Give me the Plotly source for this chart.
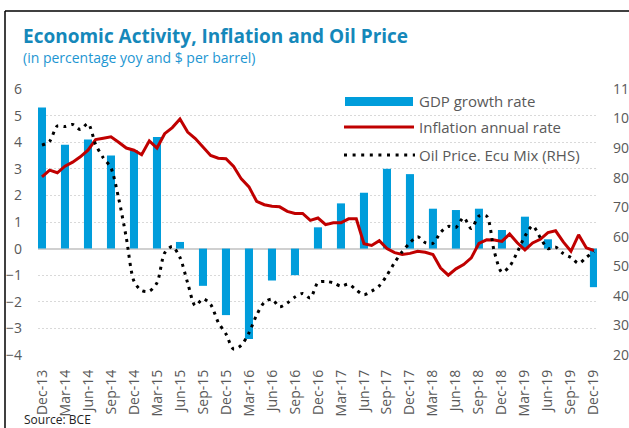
import pandas as pd
import plotly.graph_objects as go

# ---------------- data ----------------
month_labels = list(pd.date_range("2013-12-01", "2019-12-01", freq="MS").strftime("%b-%y"))

quarter_labels = ["Dec-13", "Mar-14", "Jun-14", "Sep-14", "Dec-14", "Mar-15", "Jun-15", "Sep-15",
                  "Dec-15", "Mar-16", "Jun-16", "Sep-16", "Dec-16", "Mar-17", "Jun-17", "Sep-17",
                  "Dec-17", "Mar-18", "Jun-18", "Sep-18", "Dec-18", "Mar-19", "Jun-19", "Sep-19",
                  "Dec-19"]

gdp_growth = [5.3, 3.9, 4.1, 3.5, 3.7, 4.2, 0.25, -1.4,
              -2.5, -3.4, -1.2, -1.0, 0.8, 1.7, 2.1, 3.0,
              2.8, 1.5, 1.45, 1.5, 0.7, 1.2, 0.35, 0.0,
              -1.45]

inflation = [2.70, 2.95, 2.85, 3.10, 3.25, 3.45, 3.70, 4.10, 4.15, 4.20, 4.00, 3.78,
             3.70, 3.53, 4.05, 3.78, 4.32, 4.55, 4.87, 4.38, 4.14, 3.80, 3.50, 3.40,
             3.38, 3.09, 2.62, 2.32, 1.78, 1.65, 1.59, 1.57, 1.40, 1.32, 1.32, 1.06,
             1.15, 0.90, 0.97, 0.97, 1.12, 1.12, 0.18, 0.12, 0.30, 0.00, -0.15, -0.22,
             -0.18, -0.10, -0.14, -0.22, -0.73, -1.00, -0.76, -0.60, -0.35, 0.20, 0.33, 0.32,
             0.27, 0.55, 0.22, -0.05, 0.21, 0.35, 0.60, 0.67, 0.25, -0.10, 0.52, 0.03,
             -0.07]

oil_price = [91.0, 92.3, 97.5, 97.3, 98.0, 96.3, 98.3, 91.2, 86.7, 83.3, 73.0, 59.7,
             45.0, 41.8, 41.6, 44.4, 54.5, 56.7, 53.0, 44.4, 36.7, 39.0, 37.1, 31.0,
             27.1, 22.0, 23.3, 27.5, 33.5, 37.8, 38.9, 36.3, 37.6, 39.6, 40.8, 39.3,
             44.5, 44.9, 44.4, 43.3, 44.0, 42.0, 40.4, 41.6, 43.4, 47.0, 51.3, 55.0,
             58.0, 60.0, 58.0, 57.8, 61.5, 63.5, 63.2, 66.5, 62.8, 67.0, 67.0, 55.0,
             48.0, 50.0, 54.8, 60.2, 63.7, 59.7, 56.0, 56.5, 54.3, 53.0, 51.0, 53.0,
             55.0]

series_names = ["GDP growth rate", "Inflation annual rate", "Oil Price. Ecu Mix (RHS)"]

# ---------------- styling ----------------
W, H = 629, 428
L, R, T, B = 38, 32, 89, 73
PW, PH = W - L - R, H - T - B

BLUE = "#009DDB"
RED = "#C00000"
GREY_TXT = "#595959"
TITLE_BLUE = "#1588BA"
SUB_BLUE = "#1D96D2"
FONT = "Open Sans"


def px(xp):
    return (xp - L) / PW


def py(yp):
    return (H - B - yp) / PH


fig = go.Figure()

fig.add_trace(go.Bar(
    x=quarter_labels, y=gdp_growth, name=series_names[0],
    marker=dict(color=BLUE, line=dict(width=0)), width=1.05,
))
fig.add_trace(go.Scatter(
    x=month_labels, y=inflation, name=series_names[1], mode="lines",
    line=dict(color=RED, width=3),
))
fig.add_trace(go.Scatter(
    x=month_labels, y=oil_price, name=series_names[2], mode="lines", yaxis="y2",
    line=dict(color="black", width=3, dash="3px,5px", shape="spline", smoothing=0.8),
))

fig.update_layout(
    width=W, height=H,
    margin=dict(l=L, r=R, t=T, b=B, pad=0, autoexpand=False),
    plot_bgcolor="white", paper_bgcolor="white",
    showlegend=False,
    font=dict(family=FONT, color=GREY_TXT, size=14),
    xaxis=dict(
        type="category", categoryorder="array", categoryarray=month_labels,
        range=[-0.52, 72.4], tickmode="array", tickvals=quarter_labels,
        tickangle=-90, showgrid=False, showline=False, zeroline=False, ticks="",
        tickfont=dict(size=14, color=GREY_TXT), ticklabelstandoff=11, automargin=False,
    ),
    yaxis=dict(
        range=[-4, 6], dtick=1, tick0=0, showgrid=True, gridcolor="#D9D9D9",
        griddash="2px,2px", gridwidth=1, zeroline=True, zerolinecolor="#D0D0D0",
        zerolinewidth=2, showline=False, ticks="", automargin=False,
        tickfont=dict(size=14, color=GREY_TXT), ticklabelstandoff=15,
    ),
    yaxis2=dict(
        range=[20, 110], dtick=10, tick0=20, overlaying="y", side="right",
        showgrid=False, zeroline=False, showline=False, ticks="", automargin=False,
        tickfont=dict(size=14, color=GREY_TXT), ticklabelstandoff=15,
    ),
)

shapes = []
# outer frame (top and left border)
shapes.append(dict(type="line", xref="paper", yref="paper", x0=px(5), x1=px(W + 5),
                   y0=py(11), y1=py(11), line=dict(color="black", width=1.5)))
shapes.append(dict(type="line", xref="paper", yref="paper", x0=px(5), x1=px(5),
                   y0=py(11), y1=py(H + 5), line=dict(color="black", width=1.5)))
# legend symbols
shapes.append(dict(type="rect", xref="paper", yref="paper", x0=px(345), x1=px(413),
                   y0=py(106), y1=py(97), fillcolor=BLUE, line=dict(width=0)))
shapes.append(dict(type="line", xref="paper", yref="paper", x0=px(344), x1=px(414),
                   y0=py(127), y1=py(127), line=dict(color=RED, width=3)))
shapes.append(dict(type="line", xref="paper", yref="paper", x0=px(344), x1=px(415),
                   y0=py(155), y1=py(155), line=dict(color="black", width=3, dash="3px,5.6px")))
fig.update_layout(shapes=shapes)

annotations = [
    dict(text="<b>Economic Activity, Inflation and Oil Price</b>", x=px(21), y=py(36),
         font=dict(size=19, color=TITLE_BLUE, family=FONT)),
    dict(text="(in percentage yoy and $ per barrel)", x=px(21), y=py(57),
         font=dict(size=14, color=SUB_BLUE, family=FONT)),
    dict(text="Source: BCE", x=px(22), y=py(419),
         font=dict(size=12, color="#222222", family=FONT)),
]
for name, yy in zip(series_names, [101, 127, 155]):
    annotations.append(dict(text=name, x=px(417), y=py(yy),
                            font=dict(size=15, color=GREY_TXT, family=FONT)))
for a in annotations:
    a.update(xref="paper", yref="paper", xanchor="left", yanchor="middle", showarrow=False)
fig.update_layout(annotations=annotations)

fig.write_html("out.html", config={"displayModeBar": False},
               post_script="document.body.style.margin='0';")
